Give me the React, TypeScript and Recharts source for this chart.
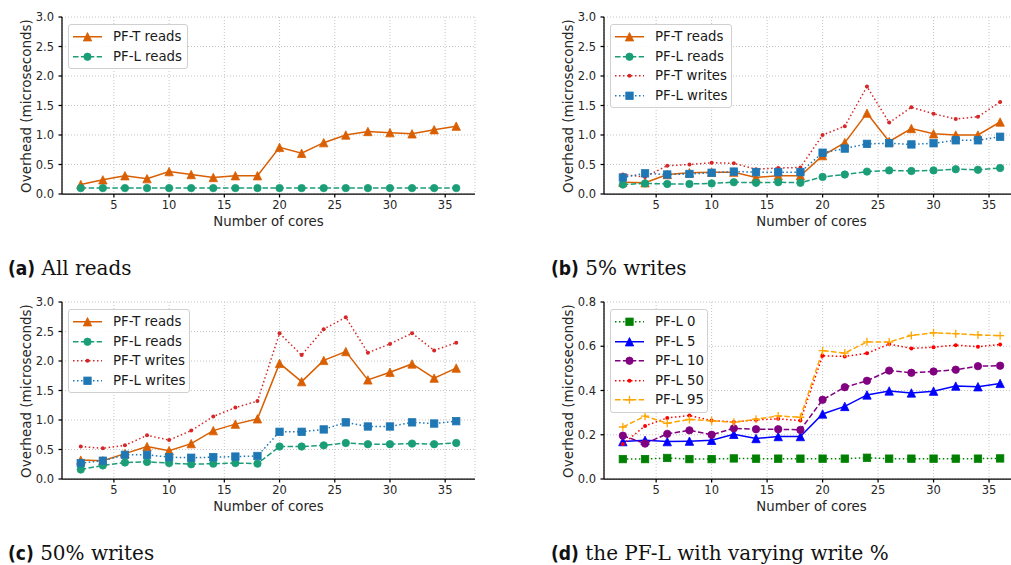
import React from 'react';
import { LineChart, Line, XAxis, YAxis, CartesianGrid } from 'recharts';

// number of cores on the x axis
const cores = [2, 4, 6, 8, 10, 12, 14, 16, 18, 20, 22, 24, 26, 28, 30, 32, 34, 36];
const xTicks = [5, 10, 15, 20, 25, 30, 35];
const yTicksUs = [0, 0.5, 1, 1.5, 2, 2.5, 3];
const yTicksD = [0, 0.2, 0.4, 0.6, 0.8];

// (a) all reads
const aPftReads = [0.16, 0.24, 0.31, 0.26, 0.38, 0.33, 0.28, 0.31, 0.31, 0.79, 0.69, 0.87, 1.0, 1.06, 1.04, 1.02, 1.09, 1.15];
const aPflReads = [0.1, 0.1, 0.1, 0.1, 0.1, 0.1, 0.1, 0.1, 0.1, 0.1, 0.1, 0.1, 0.1, 0.1, 0.1, 0.1, 0.1, 0.1];

// (b) 5% writes
const bPftReads = [0.2, 0.19, 0.33, 0.36, 0.37, 0.37, 0.28, 0.31, 0.31, 0.65, 0.87, 1.37, 0.89, 1.11, 1.02, 1.0, 1.0, 1.22];
const bPflReads = [0.16, 0.18, 0.17, 0.17, 0.18, 0.2, 0.19, 0.2, 0.19, 0.29, 0.33, 0.38, 0.4, 0.39, 0.4, 0.42, 0.41, 0.44];
const bPftWrites = [0.33, 0.29, 0.48, 0.5, 0.53, 0.52, 0.42, 0.44, 0.45, 1.0, 1.15, 1.82, 1.21, 1.47, 1.36, 1.27, 1.31, 1.56];
const bPflWrites = [0.28, 0.35, 0.33, 0.34, 0.36, 0.38, 0.37, 0.37, 0.37, 0.7, 0.77, 0.85, 0.86, 0.84, 0.86, 0.91, 0.91, 0.97];

// (c) 50% writes
const cPftReads = [0.32, 0.31, 0.43, 0.55, 0.48, 0.6, 0.82, 0.93, 1.02, 1.96, 1.65, 2.01, 2.16, 1.68, 1.81, 1.95, 1.71, 1.88];
const cPflReads = [0.16, 0.23, 0.28, 0.29, 0.27, 0.25, 0.26, 0.27, 0.26, 0.55, 0.55, 0.57, 0.61, 0.59, 0.59, 0.6, 0.59, 0.61];
const cPftWrites = [0.55, 0.52, 0.57, 0.74, 0.66, 0.82, 1.06, 1.21, 1.32, 2.47, 2.1, 2.54, 2.74, 2.14, 2.29, 2.47, 2.18, 2.31];
const cPflWrites = [0.27, 0.31, 0.41, 0.41, 0.37, 0.36, 0.37, 0.38, 0.39, 0.8, 0.8, 0.84, 0.96, 0.89, 0.89, 0.96, 0.94, 0.98];

// (d) PF-L with varying write %
const dPfl0 = [0.09, 0.09, 0.095, 0.09, 0.09, 0.093, 0.092, 0.092, 0.092, 0.092, 0.092, 0.096, 0.092, 0.092, 0.092, 0.092, 0.092, 0.093];
const dPfl5 = [0.169, 0.175, 0.169, 0.171, 0.175, 0.202, 0.183, 0.192, 0.192, 0.294, 0.328, 0.38, 0.398, 0.389, 0.397, 0.42, 0.417, 0.432];
const dPfl10 = [0.196, 0.16, 0.204, 0.22, 0.2, 0.229, 0.225, 0.225, 0.222, 0.358, 0.415, 0.444, 0.49, 0.48, 0.486, 0.494, 0.51, 0.512];
const dPfl50 = [0.158, 0.24, 0.276, 0.287, 0.264, 0.258, 0.267, 0.272, 0.264, 0.557, 0.554, 0.568, 0.61, 0.59, 0.596, 0.605, 0.598, 0.608];
const dPfl95 = [0.235, 0.284, 0.252, 0.269, 0.263, 0.257, 0.27, 0.285, 0.279, 0.58, 0.569, 0.62, 0.619, 0.649, 0.661, 0.657, 0.651, 0.648];

type Kind = 'tri' | 'circle' | 'square' | 'point' | 'plus';
interface Series { key: string; name: string; values: number[]; color: string; dash?: string; kind: Kind }

const DASHED = '5.5 2.4';
const DOTTED = '1.5 2.5';
const FONT = '"DejaVu Sans", sans-serif';

const Marker = ({ kind, cx, cy, color }: { kind: Kind; cx: number; cy: number; color: string }) => {
  if (cx == null || cy == null) return null;
  if (kind === 'tri') {
    const s = 4.2;
    return <path d={`M${cx},${cy - s} L${cx + s},${cy + s} L${cx - s},${cy + s} Z`} fill={color} stroke={color} strokeWidth={0.8} />;
  }
  if (kind === 'circle') return <circle cx={cx} cy={cy} r={3.7} fill={color} stroke={color} strokeWidth={0.8} />;
  if (kind === 'square') return <rect x={cx - 3.7} y={cy - 3.7} width={7.4} height={7.4} fill={color} stroke={color} strokeWidth={0.8} />;
  if (kind === 'point') return <circle cx={cx} cy={cy} r={2} fill={color} />;
  return <path d={`M${cx - 4},${cy} H${cx + 4} M${cx},${cy - 4} V${cy + 4}`} stroke={color} strokeWidth={1.3} fill="none" />;
};

const readsWrites = (pr: number[], lr: number[], pw?: number[], lw?: number[]): Series[] => {
  const s: Series[] = [
    { key: 'ptr', name: 'PF-T reads', values: pr, color: '#d95f02', kind: 'tri' },
    { key: 'plr', name: 'PF-L reads', values: lr, color: '#1b9e77', dash: DASHED, kind: 'circle' },
  ];
  if (pw) s.push({ key: 'ptw', name: 'PF-T writes', values: pw, color: '#d62728', dash: DOTTED, kind: 'point' });
  if (lw) s.push({ key: 'plw', name: 'PF-L writes', values: lw, color: '#1f77b4', dash: DOTTED, kind: 'square' });
  return s;
};

const seriesA = readsWrites(aPftReads, aPflReads);
const seriesB = readsWrites(bPftReads, bPflReads, bPftWrites, bPflWrites);
const seriesC = readsWrites(cPftReads, cPflReads, cPftWrites, cPflWrites);
const seriesD: Series[] = [
  { key: 'l0', name: 'PF-L 0', values: dPfl0, color: '#008000', dash: DOTTED, kind: 'square' },
  { key: 'l5', name: 'PF-L 5', values: dPfl5, color: '#0000ff', kind: 'tri' },
  { key: 'l10', name: 'PF-L 10', values: dPfl10, color: '#800080', dash: DASHED, kind: 'circle' },
  { key: 'l50', name: 'PF-L 50', values: dPfl50, color: '#ff0000', dash: DOTTED, kind: 'point' },
  { key: 'l95', name: 'PF-L 95', values: dPfl95, color: '#ffa500', dash: DASHED, kind: 'plus' },
];

const toRows = (series: Series[]) =>
  cores.map((c, i) => {
    const row: Record<string, number> = { cores: c };
    series.forEach((s) => (row[s.key] = s.values[i]));
    return row;
  });

const PLOT_H = 177;

const Panel = ({ x, y, w, series, yMax, yTicks, legendW }: {
  x: number; y: number; w: number; series: Series[]; yMax: number; yTicks: number[]; legendW: number;
}) => {
  const data = toRows(series);
  const tick = { fontSize: 11.5, fill: '#262626', fontFamily: FONT };
  return (
    <>
      <div style={{ position: 'absolute', left: x - 62, top: y - 10 }}>
        <LineChart width={62 + w + 5} height={10 + PLOT_H + 30} data={data} margin={{ top: 10, right: 5, bottom: 0, left: 0 }}>
          <CartesianGrid stroke="#bdbdbd" strokeDasharray="1 2" strokeWidth={0.9} />
          <XAxis dataKey="cores" type="number" domain={[0.3, 37.7]} ticks={xTicks} allowDataOverflow height={30}
            tick={tick} tickSize={3.5} tickMargin={3} stroke="#000" strokeWidth={1.25} />
          <YAxis type="number" domain={[0, yMax]} ticks={yTicks} allowDataOverflow width={62}
            tickFormatter={(v: number) => v.toFixed(1)} tick={tick} tickSize={3.5} tickMargin={4.5} stroke="#000" strokeWidth={1.25} />
          {series.map((s) => (
            <Line key={s.key} dataKey={s.key} type="linear" stroke={s.color} strokeWidth={1.5}
              strokeDasharray={s.dash} isAnimationActive={false}
              dot={(p: any) => <Marker key={`${s.key}-${p.index}`} kind={s.kind} cx={p.cx} cy={p.cy} color={s.color} />}
              activeDot={false} />
          ))}
        </LineChart>
      </div>
      <div style={{
        position: 'absolute', left: x - 36, top: y + PLOT_H / 2, transform: 'translate(-50%, -50%) rotate(-90deg)',
        fontFamily: FONT, fontSize: 13.5, color: '#262626', whiteSpace: 'nowrap', lineHeight: '16px',
      }}>Overhead (microseconds)</div>
      <div style={{
        position: 'absolute', left: x + w / 2, top: y + 205, transform: 'translate(-50%, -50%)',
        fontFamily: FONT, fontSize: 13.3, color: '#262626', whiteSpace: 'nowrap', lineHeight: '16px',
      }}>Number of cores</div>
      <div style={{
        position: 'absolute', left: x + 6, top: y + 7, width: legendW, padding: '2px 0',
        border: '1px solid #d0d0d0', borderRadius: 3, background: 'rgba(255,255,255,0.85)', boxSizing: 'border-box',
      }}>
        {series.map((s) => (
          <div key={s.key} style={{ display: 'flex', alignItems: 'center', height: 19.5 }}>
            <svg width={44} height={19.5} style={{ flex: 'none' }}>
              <line x1={4} x2={33} y1={9.75} y2={9.75} stroke={s.color} strokeWidth={1.5} strokeDasharray={s.dash} />
              <Marker kind={s.kind} cx={18.5} cy={9.75} color={s.color} />
            </svg>
            <span style={{ fontFamily: FONT, fontSize: 13.3, color: '#1a1a1a', whiteSpace: 'nowrap' }}>{s.name}</span>
          </div>
        ))}
      </div>
    </>
  );
};

const Caption = ({ x, y, tag, text }: { x: number; y: number; tag: string; text: string }) => (
  <div style={{ position: 'absolute', left: x, top: y, whiteSpace: 'nowrap', lineHeight: '22px', color: '#111' }}>
    <span style={{ fontFamily: '"DejaVu Sans Condensed", "DejaVu Sans", sans-serif', fontWeight: 'bold', fontSize: 19 }}>{tag}</span>
    <span style={{ fontFamily: '"DejaVu Serif", serif', fontSize: 20 }}> {text}</span>
  </div>
);

export default function App() {
  return (
    <div style={{ position: 'absolute', left: 0, top: 0, width: 1011, height: 565, overflow: 'hidden', background: '#fff' }}>
      <Panel x={62} y={17} w={413} series={seriesA} yMax={3} yTicks={yTicksUs} legendW={120} />
      <Panel x={604} y={17} w={415} series={seriesB} yMax={3} yTicks={yTicksUs} legendW={122} />
      <Panel x={62} y={302} w={413} series={seriesC} yMax={3} yTicks={yTicksUs} legendW={122} />
      <Panel x={604} y={302} w={415} series={seriesD} yMax={0.8} yTicks={yTicksD} legendW={98} />
      <Caption x={8} y={257} tag="(a)" text="All reads" />
      <Caption x={551} y={257} tag="(b)" text="5% writes" />
      <Caption x={8} y={542} tag="(c)" text="50% writes" />
      <Caption x={551} y={542} tag="(d)" text="the PF-L with varying write %" />
    </div>
  );
}
